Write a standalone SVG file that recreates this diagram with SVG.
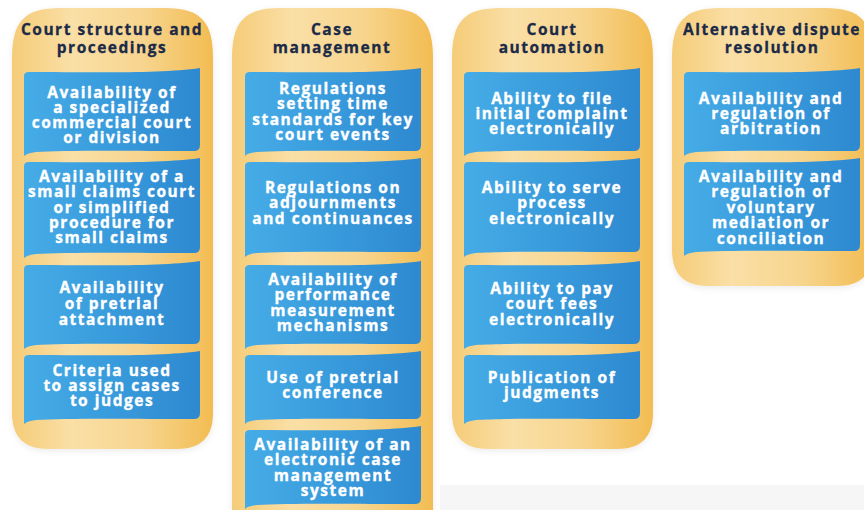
<svg xmlns="http://www.w3.org/2000/svg" width="864" height="510" viewBox="0 0 864 510">
  <defs>
    <linearGradient id="gOrange" x1="0" y1="0" x2="1" y2="0">
      <stop offset="0" stop-color="#f5cc78"/>
      <stop offset="0.3" stop-color="#fadfa6"/>
      <stop offset="0.65" stop-color="#f7d58e"/>
      <stop offset="1" stop-color="#f2bc52"/>
    </linearGradient>
    <linearGradient id="gBlue" x1="0" y1="0" x2="1" y2="0">
      <stop offset="0" stop-color="#46ace6"/>
      <stop offset="0.5" stop-color="#389bdc"/>
      <stop offset="1" stop-color="#2e89d0"/>
    </linearGradient>
    <filter id="glow" x="-10%" y="-10%" width="120%" height="120%">
      <feDropShadow dx="0" dy="2" stdDeviation="3" flood-color="#000" flood-opacity="0.08"/>
    </filter>
  </defs>
  <style>
    .col { fill: url(#gOrange); filter: url(#glow); }
    .box { fill: url(#gBlue); }
    .hd { font-family: "Open Sans", "Liberation Sans", sans-serif; font-weight: 700; font-size: 15.5px; letter-spacing: 1.5px; fill: #1b2a47; stroke: #1b2a47; stroke-width: 0.3px; text-anchor: middle; }
    .bt { font-family: "Open Sans", "Liberation Sans", sans-serif; font-weight: 700; font-size: 15.5px; letter-spacing: 1.5px; fill: #ffffff; stroke: #ffffff; stroke-width: 0.35px; text-anchor: middle; }
  </style>

  <rect x="440" y="485" width="424" height="25" fill="#f6f6f6"/>

  <!-- Column 1 -->
  <g id="col-court-structure">
    <path class="col" d="M12,58 C12,22 24,8 60,8 L165,8 C201,8 213,22 213,58 L213,413 C213,437 201,449 177,449 L48,449 C24,449 12,437 12,413 Z"/>
    <text class="hd"><tspan x="112" y="35">Court structure and</tspan><tspan x="112" y="53">proceedings</tspan></text>
  </g>
  <g id="box-1-1" transform="translate(24,70)">
    <path class="box" d="M0,6 Q0,2 5,2 C60,2 136,4 176,-2 L176,75 Q176,81 170,81 C116,81 40,80 12,82 Q3,83 0,86 Z"/>
    <text class="bt"><tspan x="88" y="28">Availability of</tspan><tspan x="88" y="43">a specialized</tspan><tspan x="88" y="58">commercial court</tspan><tspan x="88" y="73">or division</tspan></text>
  </g>
  <g id="box-1-2" transform="translate(24,160)">
    <path class="box" d="M0,6 Q0,2 5,2 C60,2 136,4 176,-2 L176,87 Q176,93 170,93 C116,93 40,92 12,94 Q3,95 0,98 Z"/>
    <text class="bt"><tspan x="88" y="22">Availability of a</tspan><tspan x="88" y="37">small claims court</tspan><tspan x="88" y="53">or simplified</tspan><tspan x="88" y="68">procedure for</tspan><tspan x="88" y="83">small claims</tspan></text>
  </g>
  <g id="box-1-3" transform="translate(24,263)">
    <path class="box" d="M0,6 Q0,2 5,2 C60,2 136,4 176,-2 L176,75 Q176,81 170,81 C116,81 40,80 12,82 Q3,83 0,86 Z"/>
    <text class="bt"><tspan x="88" y="30">Availability</tspan><tspan x="88" y="46">of pretrial</tspan><tspan x="88" y="62">attachment</tspan></text>
  </g>
  <g id="box-1-4" transform="translate(24,353)">
    <path class="box" d="M0,6 Q0,2 5,2 C60,2 136,4 176,-2 L176,60 Q176,66 170,66 C116,66 40,65 12,67 Q3,68 0,71 Z"/>
    <text class="bt"><tspan x="88" y="23">Criteria used</tspan><tspan x="88" y="38">to assign cases</tspan><tspan x="88" y="53">to judges</tspan></text>
  </g>

  <!-- Column 2 -->
  <g id="col-case-management">
    <path class="col" d="M232,58 C232,22 244,8 280,8 L385,8 C421,8 433,22 433,58 L433,540 L232,540 Z"/>
    <text class="hd"><tspan x="332" y="35">Case</tspan><tspan x="332" y="53">management</tspan></text>
  </g>
  <g id="box-2-1" transform="translate(245,70)">
    <path class="box" d="M0,6 Q0,2 5,2 C60,2 136,4 176,-2 L176,75 Q176,81 170,81 C116,81 40,80 12,82 Q3,83 0,86 Z"/>
    <text class="bt"><tspan x="88" y="24">Regulations</tspan><tspan x="88" y="39">setting time</tspan><tspan x="88" y="55">standards for key</tspan><tspan x="88" y="70">court events</tspan></text>
  </g>
  <g id="box-2-2" transform="translate(245,160)">
    <path class="box" d="M0,6 Q0,2 5,2 C60,2 136,4 176,-2 L176,86 Q176,92 170,92 C116,92 40,91 12,93 Q3,94 0,97 Z"/>
    <text class="bt"><tspan x="88" y="33">Regulations on</tspan><tspan x="88" y="48">adjournments</tspan><tspan x="88" y="64">and continuances</tspan></text>
  </g>
  <g id="box-2-3" transform="translate(245,263)">
    <path class="box" d="M0,6 Q0,2 5,2 C60,2 136,4 176,-2 L176,75 Q176,81 170,81 C116,81 40,80 12,82 Q3,83 0,86 Z"/>
    <text class="bt"><tspan x="88" y="22">Availability of</tspan><tspan x="88" y="37">performance</tspan><tspan x="88" y="53">measurement</tspan><tspan x="88" y="68">mechanisms</tspan></text>
  </g>
  <g id="box-2-4" transform="translate(245,353)">
    <path class="box" d="M0,6 Q0,2 5,2 C60,2 136,4 176,-2 L176,60 Q176,66 170,66 C116,66 40,65 12,67 Q3,68 0,71 Z"/>
    <text class="bt"><tspan x="88" y="30">Use of pretrial</tspan><tspan x="88" y="45">conference</tspan></text>
  </g>
  <g id="box-2-5" transform="translate(245,428)">
    <path class="box" d="M0,6 Q0,2 5,2 C60,2 136,4 176,-2 L176,70 Q176,76 170,76 C116,76 40,75 12,77 Q3,78 0,81 Z"/>
    <text class="bt"><tspan x="88" y="22">Availability of an</tspan><tspan x="88" y="37">electronic case</tspan><tspan x="88" y="53">management</tspan><tspan x="88" y="68">system</tspan></text>
  </g>

  <!-- Column 3 -->
  <g id="col-court-automation">
    <path class="col" d="M452,58 C452,22 464,8 500,8 L605,8 C641,8 653,22 653,58 L653,413 C653,437 641,449 617,449 L488,449 C464,449 452,437 452,413 Z"/>
    <text class="hd"><tspan x="552" y="35">Court</tspan><tspan x="552" y="53">automation</tspan></text>
  </g>
  <g id="box-3-1" transform="translate(464,70)">
    <path class="box" d="M0,6 Q0,2 5,2 C60,2 136,4 176,-2 L176,75 Q176,81 170,81 C116,81 40,80 12,82 Q3,83 0,86 Z"/>
    <text class="bt"><tspan x="88" y="34">Ability to file</tspan><tspan x="88" y="49">initial complaint</tspan><tspan x="88" y="64">electronically</tspan></text>
  </g>
  <g id="box-3-2" transform="translate(464,160)">
    <path class="box" d="M0,6 Q0,2 5,2 C60,2 136,4 176,-2 L176,86 Q176,92 170,92 C116,92 40,91 12,93 Q3,94 0,97 Z"/>
    <text class="bt"><tspan x="88" y="33">Ability to serve</tspan><tspan x="88" y="48">process</tspan><tspan x="88" y="64">electronically</tspan></text>
  </g>
  <g id="box-3-3" transform="translate(464,263)">
    <path class="box" d="M0,6 Q0,2 5,2 C60,2 136,4 176,-2 L176,75 Q176,81 170,81 C116,81 40,80 12,82 Q3,83 0,86 Z"/>
    <text class="bt"><tspan x="88" y="31">Ability to pay</tspan><tspan x="88" y="46">court fees</tspan><tspan x="88" y="62">electronically</tspan></text>
  </g>
  <g id="box-3-4" transform="translate(464,353)">
    <path class="box" d="M0,6 Q0,2 5,2 C60,2 136,4 176,-2 L176,60 Q176,66 170,66 C116,66 40,65 12,67 Q3,68 0,71 Z"/>
    <text class="bt"><tspan x="88" y="30">Publication of</tspan><tspan x="88" y="45">judgments</tspan></text>
  </g>

  <!-- Column 4 -->
  <g id="col-adr">
    <path class="col" d="M672,58 C672,22 684,8 720,8 L825,8 C861,8 873,22 873,58 L873,250 C873,274 861,286 837,286 L708,286 C684,286 672,274 672,250 Z"/>
    <text class="hd"><tspan x="772" y="35">Alternative dispute</tspan><tspan x="772" y="53">resolution</tspan></text>
  </g>
  <g id="box-4-1" transform="translate(684,70)">
    <path class="box" d="M0,6 Q0,2 5,2 C60,2 136,4 176,-2 L176,75 Q176,81 170,81 C116,81 40,80 12,82 Q3,83 0,86 Z"/>
    <text class="bt"><tspan x="87" y="34">Availability and</tspan><tspan x="87" y="49">regulation of</tspan><tspan x="87" y="64">arbitration</tspan></text>
  </g>
  <g id="box-4-2" transform="translate(684,160)">
    <path class="box" d="M0,6 Q0,2 5,2 C60,2 136,4 176,-2 L176,85 Q176,91 170,91 C116,91 40,90 12,92 Q3,93 0,96 Z"/>
    <text class="bt"><tspan x="87" y="22">Availability and</tspan><tspan x="87" y="37">regulation of</tspan><tspan x="87" y="53">voluntary</tspan><tspan x="87" y="68">mediation or</tspan><tspan x="87" y="84">conciliation</tspan></text>
  </g>

  <g id="connectors"/>
</svg>
